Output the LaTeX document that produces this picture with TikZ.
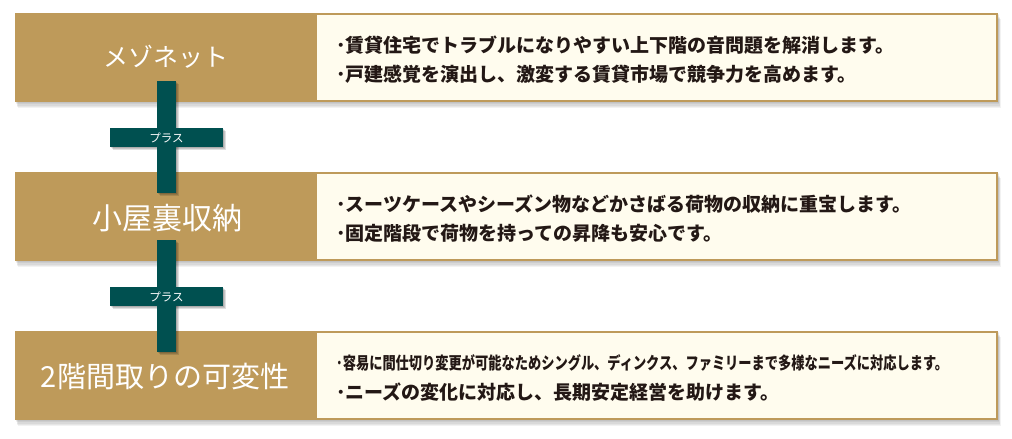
\documentclass[tikz,border=0pt]{standalone}
\usepackage{fontspec}
\usepackage{graphicx}
\newfontfamily\jp{Noto Sans CJK JP}
\definecolor{gold}{HTML}{BE9A5A}
\definecolor{paper}{HTML}{FFFCEE}
\definecolor{plusteal}{HTML}{005050}
\definecolor{ink}{HTML}{231815}
\begin{document}
\begin{tikzpicture}[x=1pt,y=-1pt,
  title/.style={text=white,inner sep=0},
  body/.style={text=ink,font=\jp\bfseries\fontsize{19}{19}\selectfont,inner sep=0,anchor=west},
  plustext/.style={text=white,font=\jp\fontsize{11.5}{11.5}\selectfont,inner sep=0},
  bandshadow/.style={fill=black,opacity=0.05},
  plusshadow/.style={fill=black,opacity=0.12}]
\useasboundingbox[fill=white] (0,0) rectangle (1012,439);
% bands
\foreach \t in {13,172,331} {
  \foreach \s in {1,...,5}
    \fill[bandshadow] (15+\s*0.6,\t+\s*1.2) rectangle (998+\s*0.6,\t+89+\s*1.2);
  \fill[gold] (15,\t) rectangle (998,\t+89);
  \fill[paper] (317,\t+2) rectangle (996,\t+87);
}
% titles
\node[title,font=\jp\fontsize{25}{25}\selectfont] (t1) at (166,57) {メゾネット};
\node[title,font=\jp\fontsize{30}{30}\selectfont] (t2) at (167,218) {小屋裏収納};
\node[title,font=\jp\fontsize{29}{29}\selectfont] (t3) at (165,377) {2階間取りの可変性};
% body texts
\node[body] (a1) at (336,45) {･賃貸住宅でトラブルになりやすい上下階の音問題を解消します。};
\node[body] (a2) at (336,74) {･戸建感覚を演出し、激変する賃貸市場で競争力を高めます。};
\node[body] (b1) at (336,204) {･スーツケースやシーズン物などかさばる荷物の収納に重宝します。};
\node[body] (b2) at (336,233) {･固定階段で荷物を持っての昇降も安心です。};
\node[body,font=\jp\bfseries\fontsize{17}{17}\selectfont] (c1) at (336,363) {\resizebox{612pt}{\height}{･容易に間仕切り変更が可能なためシングル、ディンクス、ファミリーまで多様なニーズに対応します。}};
\node[body] (c2) at (336,392) {･ニーズの変化に対応し、長期安定経営を助けます。};
% plus signs
\foreach \t/\n in {81/1,240/2} {
  \foreach \s in {1,2,3} {
    \fill[plusshadow] (157+\s,\t+\s) rectangle (176+\s,\t+112+\s);
    \fill[plusshadow] (110+\s,\t+47+\s) rectangle (223+\s,\t+66+\s);
  }
  \fill[plusteal] (110,\t+47) rectangle (223,\t+66);
  \fill[plusteal] (157,\t) rectangle (176,\t+112);
  \node[plustext] (p\n) at (166.5,\t+56.5) {プラス};
}
\end{tikzpicture}
\end{document}
